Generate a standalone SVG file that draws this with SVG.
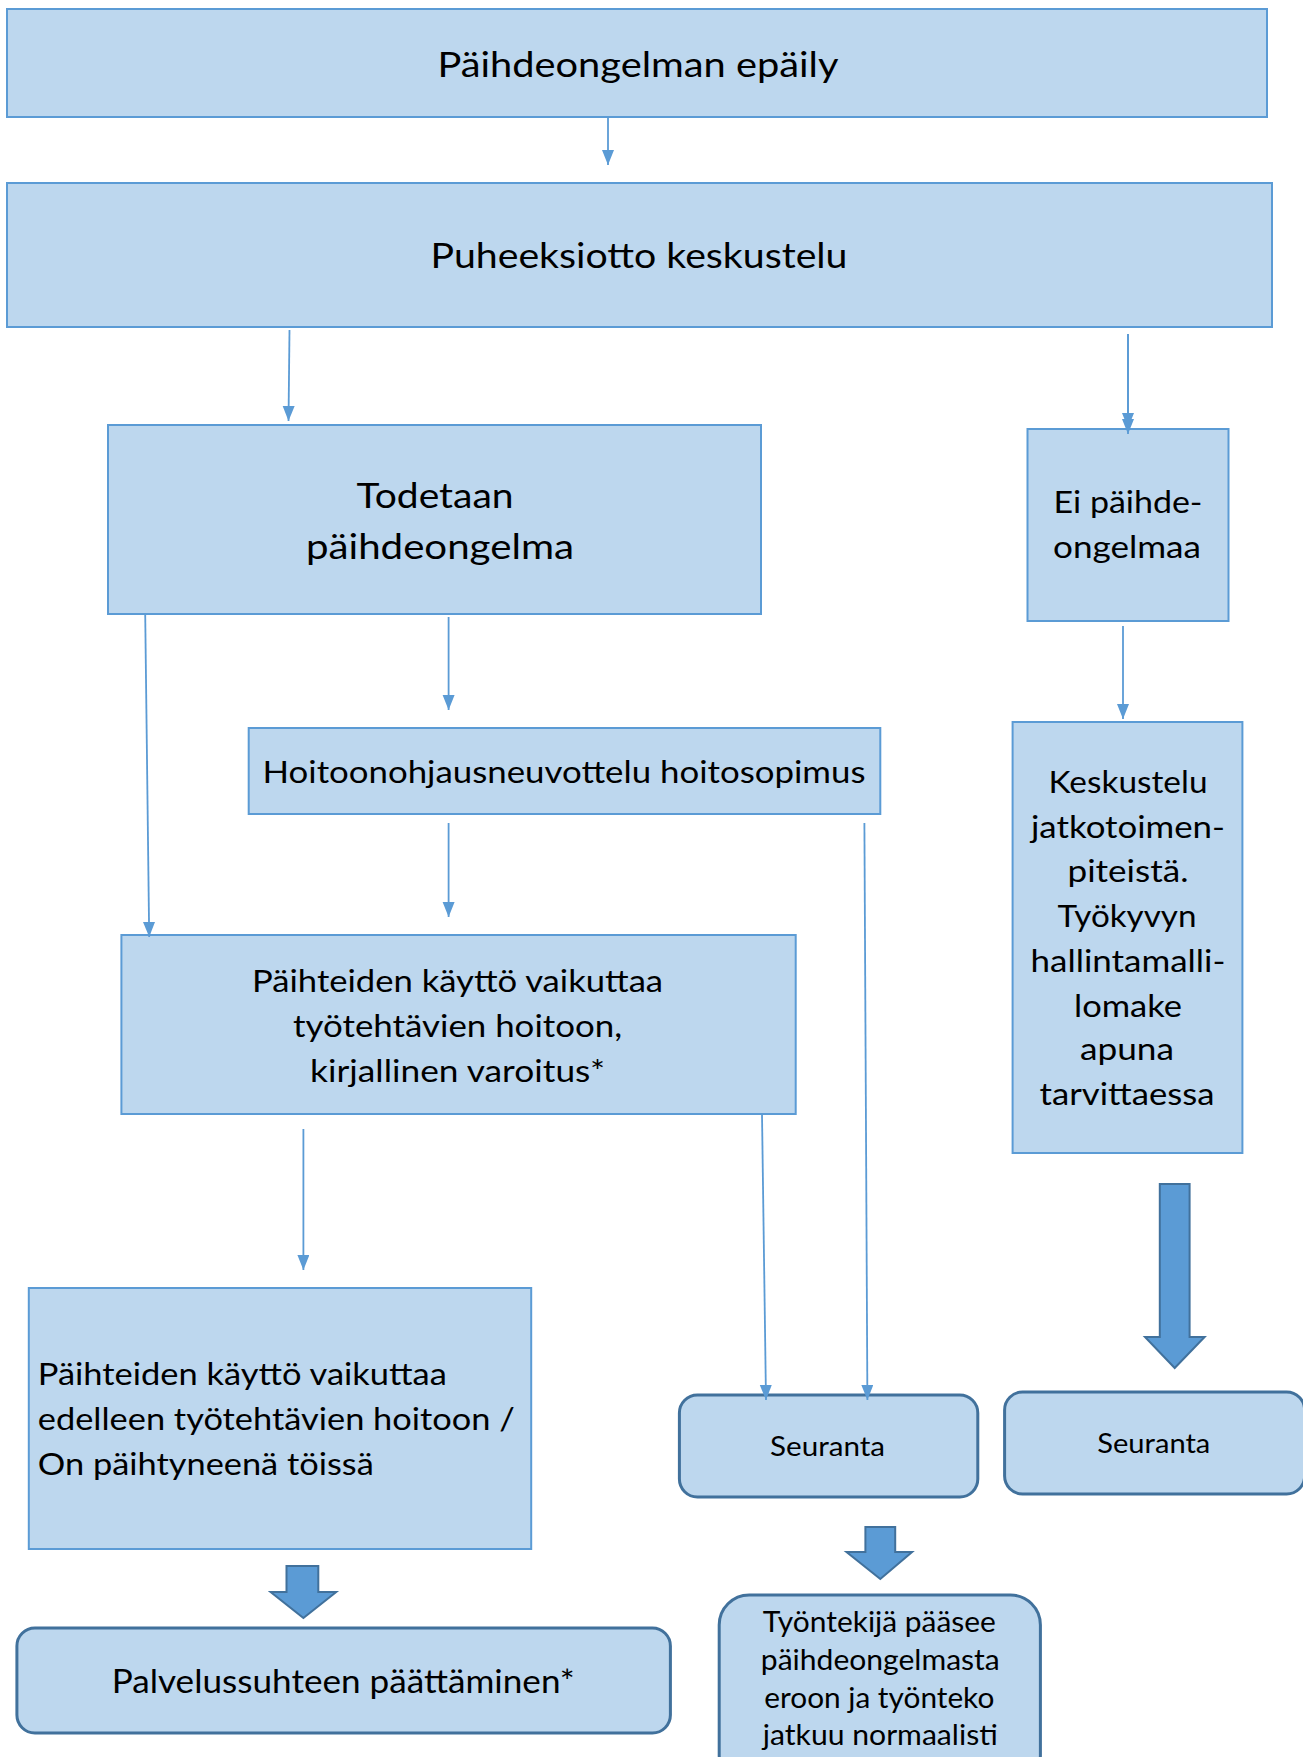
<svg xmlns="http://www.w3.org/2000/svg" width="1303" height="1757" viewBox="0 0 1303 1757">
<style>
.box{fill:#BDD7EE;stroke:#5B9BD5;stroke-width:2}
.rbox{fill:#BDD7EE;stroke:#41719C;stroke-width:3}
.t{font-family:Lato,"Open Sans","Liberation Sans",sans-serif;fill:#000;text-anchor:middle}
.tl{font-family:Lato,"Open Sans","Liberation Sans",sans-serif;fill:#000;text-anchor:start}
.c{stroke:#5B9BD5;stroke-width:1.8;fill:none;marker-end:url(#ah)}
.blk{fill:#5B9BD5;stroke:#41719C;stroke-width:2}
</style>
<defs>
<marker id="ah" markerUnits="userSpaceOnUse" markerWidth="16" markerHeight="13" refX="15" refY="6" orient="auto">
<path d="M0,0 L15,6 L0,12 z" fill="#5B9BD5"/>
</marker>
</defs>
<rect width="1303" height="1757" fill="#fff"/>

<g id="n1">
<rect class="box" x="7" y="9" width="1260" height="108"/>
<text class="t" x="638" y="77" font-size="35" textLength="401" lengthAdjust="spacingAndGlyphs">Päihdeongelman epäily</text>
</g>
<g id="n2">
<rect class="box" x="7" y="183" width="1265" height="144"/>
<text class="t" x="639" y="268" font-size="35" textLength="417" lengthAdjust="spacingAndGlyphs">Puheeksiotto keskustelu</text>
</g>
<g id="n3">
<rect class="box" x="108" y="425" width="653" height="189"/>
<text class="t" x="435" y="508" font-size="35" textLength="157" lengthAdjust="spacingAndGlyphs">Todetaan</text>
<text class="t" x="440" y="559" font-size="35" textLength="268" lengthAdjust="spacingAndGlyphs">päihdeongelma</text>
</g>
<g id="n4">
<rect class="box" x="1027.5" y="429" width="201" height="192"/>
<text class="t" x="1128" y="513" font-size="30" textLength="149" lengthAdjust="spacingAndGlyphs">Ei päihde-</text>
<text class="t" x="1127" y="558" font-size="30" textLength="148" lengthAdjust="spacingAndGlyphs">ongelmaa</text>
</g>
<g id="n5">
<rect class="box" x="248.7" y="728" width="631.6" height="86"/>
<text class="t" x="564" y="783" font-size="31" textLength="603" lengthAdjust="spacingAndGlyphs">Hoitoonohjausneuvottelu hoitosopimus</text>
</g>
<g id="n6">
<rect class="box" x="1012.6" y="722" width="229.8" height="431"/>
<text class="t" x="1128" y="793" font-size="31" textLength="159" lengthAdjust="spacingAndGlyphs">Keskustelu</text>
<text class="t" x="1128" y="838" font-size="31" textLength="194" lengthAdjust="spacingAndGlyphs">jatkotoimen-</text>
<text class="t" x="1128" y="882" font-size="31" textLength="121" lengthAdjust="spacingAndGlyphs">piteistä.</text>
<text class="t" x="1127" y="927" font-size="31" textLength="139" lengthAdjust="spacingAndGlyphs">Työkyvyn</text>
<text class="t" x="1128" y="972" font-size="31" textLength="195" lengthAdjust="spacingAndGlyphs">hallintamalli-</text>
<text class="t" x="1128" y="1017" font-size="31" textLength="108" lengthAdjust="spacingAndGlyphs">lomake</text>
<text class="t" x="1127" y="1060" font-size="31" textLength="94" lengthAdjust="spacingAndGlyphs">apuna</text>
<text class="t" x="1127" y="1105" font-size="31" textLength="175" lengthAdjust="spacingAndGlyphs">tarvittaessa</text>
</g>
<g id="n7">
<rect class="box" x="121.4" y="935" width="674.3" height="179"/>
<text class="t" x="457.6" y="992" font-size="31" textLength="411" lengthAdjust="spacingAndGlyphs">Päihteiden käyttö vaikuttaa</text>
<text class="t" x="457.6" y="1037" font-size="31" textLength="329" lengthAdjust="spacingAndGlyphs">työtehtävien hoitoon,</text>
<text class="t" x="457.6" y="1082" font-size="31" textLength="295" lengthAdjust="spacingAndGlyphs">kirjallinen varoitus*</text>
</g>
<g id="n8">
<rect class="box" x="28.8" y="1288" width="502.4" height="261"/>
<text class="tl" x="37.8" y="1385" font-size="31" textLength="409" lengthAdjust="spacingAndGlyphs">Päihteiden käyttö vaikuttaa</text>
<text class="tl" x="37.8" y="1430" font-size="31" textLength="477" lengthAdjust="spacingAndGlyphs">edelleen työtehtävien hoitoon /</text>
<text class="tl" x="37.8" y="1475" font-size="31" textLength="336" lengthAdjust="spacingAndGlyphs">On päihtyneenä töissä</text>
</g>
<g id="n9">
<rect class="rbox" x="679.4" y="1395" width="298.4" height="102" rx="18"/>
<text class="t" x="827.6" y="1456" font-size="27" textLength="115" lengthAdjust="spacingAndGlyphs">Seuranta</text>
</g>
<g id="n10">
<rect class="rbox" x="1004.6" y="1392" width="300" height="102" rx="18"/>
<text class="t" x="1153.8" y="1453" font-size="27" textLength="113" lengthAdjust="spacingAndGlyphs">Seuranta</text>
</g>
<g id="n11">
<rect class="rbox" x="16.9" y="1628" width="653.5" height="105" rx="18"/>
<text class="t" x="343.2" y="1693" font-size="32" textLength="463" lengthAdjust="spacingAndGlyphs">Palvelussuhteen päättäminen*</text>
</g>
<g id="n12">
<rect class="rbox" x="719.2" y="1595" width="321.2" height="190" rx="30"/>
<text class="t" x="879.3" y="1632" font-size="28" textLength="233" lengthAdjust="spacingAndGlyphs">Työntekijä pääsee</text>
<text class="t" x="880.3" y="1670" font-size="28" textLength="239" lengthAdjust="spacingAndGlyphs">päihdeongelmasta</text>
<text class="t" x="879.3" y="1708" font-size="28" textLength="230" lengthAdjust="spacingAndGlyphs">eroon ja työnteko</text>
<text class="t" x="880.3" y="1745" font-size="28" textLength="235" lengthAdjust="spacingAndGlyphs">jatkuu normaalisti</text>
</g>

<g id="connectors">
<line class="c" x1="608" y1="117" x2="608" y2="165"/>
<line class="c" x1="289.5" y1="330" x2="288.5" y2="421"/>
<line class="c" x1="1128" y1="334" x2="1128" y2="428"/>
<line class="c" x1="1128" y1="334" x2="1128" y2="434"/>
<line class="c" x1="448.6" y1="617" x2="448.6" y2="710"/>
<line class="c" x1="1123" y1="626" x2="1123" y2="719"/>
<line class="c" x1="145.2" y1="614" x2="149.2" y2="937"/>
<line class="c" x1="448.6" y1="823" x2="448.6" y2="917"/>
<line class="c" x1="864.4" y1="823" x2="867.4" y2="1400"/>
<line class="c" x1="303.4" y1="1129" x2="303.4" y2="1270"/>
<line class="c" x1="762" y1="1114" x2="766" y2="1400"/>
<path class="blk" d="M1159.8,1184 L1189.6,1184 L1189.6,1337 L1204.6,1337 L1174.7,1368 L1145,1337 L1159.8,1337 Z"/>
<path class="blk" d="M865.4,1527 L895.2,1527 L895.2,1552 L912.1,1552 L880.3,1579 L846.5,1552 L865.4,1552 Z"/>
<path class="blk" d="M286.5,1566 L318.3,1566 L318.3,1592 L336.2,1592 L303.4,1618 L270.6,1592 L286.5,1592 Z"/>
</g>
</svg>
